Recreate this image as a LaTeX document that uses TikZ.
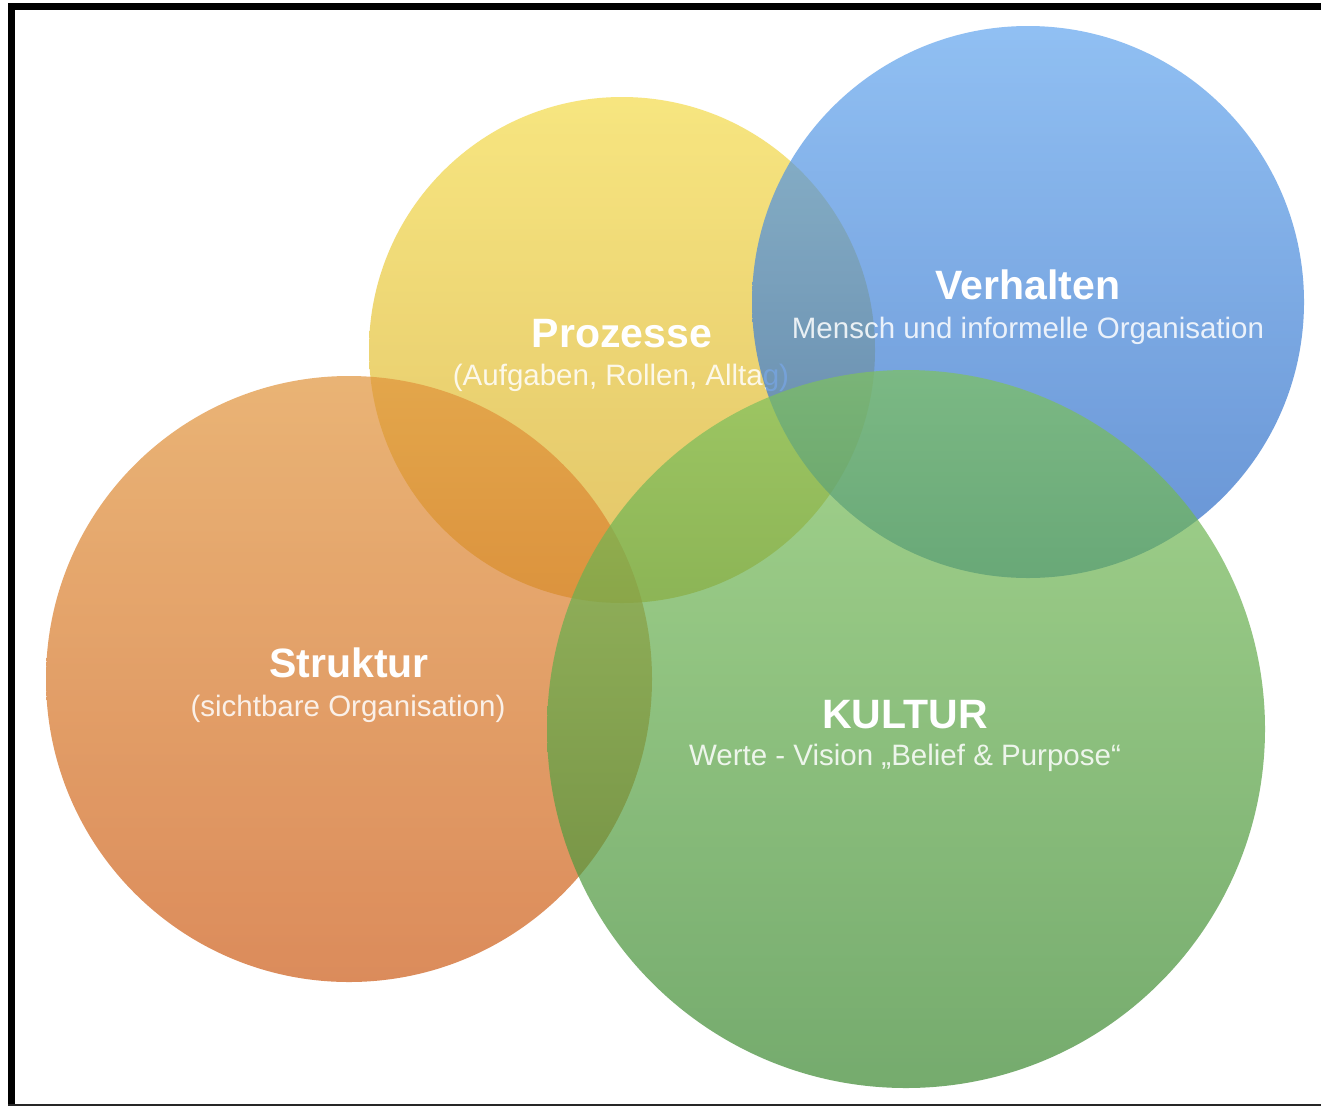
\documentclass[tikz,border=0pt]{standalone}
\usepackage{fontspec}
\setmainfont{Liberation Sans}
\definecolor{ytop}{RGB}{244,219,74}
\definecolor{ybot}{RGB}{214,171,39}
\definecolor{btop}{RGB}{98,165,238}
\definecolor{bbot}{RGB}{39,102,194}
\definecolor{otop}{RGB}{225,148,59}
\definecolor{obot}{RGB}{205,91,22}
\definecolor{gtop}{RGB}{126,194,94}
\definecolor{gbot}{RGB}{59,136,48}
\tikzset{
  blob/.style={fill opacity=0.7},
  ttl/.style={anchor=base, text=white, font=\bfseries\fontsize{41}{48}\selectfont, inner sep=0pt},
  sub/.style={anchor=base, text=white, text opacity=0.85, font=\fontsize{29.5}{35}\selectfont, inner sep=0pt}
}
\begin{document}
\begin{tikzpicture}[x=1pt,y=-1pt]
\useasboundingbox (0,0) rectangle (1321,1106);
\fill[white] (0,0) rectangle (1321,1106);
% circles
\shade[blob, top color=ytop, bottom color=ybot] (622,350) circle (253);
\shade[blob, top color=otop, bottom color=obot] (349,679) circle (303);
\node[ttl] (pt) at (622,347) {Prozesse};
\node[sub] (ps) at (621,385) {(Aufgaben, Rollen, Alltag)};
\shade[blob, top color=btop, bottom color=bbot] (1028,302) circle (276);
\node[ttl] (vt) at (1028,299) {Verhalten};
\node[sub] (vs) at (1028,338) {Mensch und informelle Organisation};
\shade[blob, top color=gtop, bottom color=gbot] (906,729) circle (359);
\node[ttl] (st) at (349,677) {Struktur};
\node[sub] (ss) at (348,716) {(sichtbare Organisation)};
\node[ttl] (kt) at (905,728) {KULTUR};
\node[sub] (ks) at (905,765) {Werte - Vision „Belief \& Purpose“};
% frame
\fill[black] (7.5,2.7) rectangle (1321,10);
\fill[black] (7.5,2.7) rectangle (15,1106);
\fill[black!85] (7.5,1103.5) rectangle (1321,1106);
\end{tikzpicture}
\end{document}
